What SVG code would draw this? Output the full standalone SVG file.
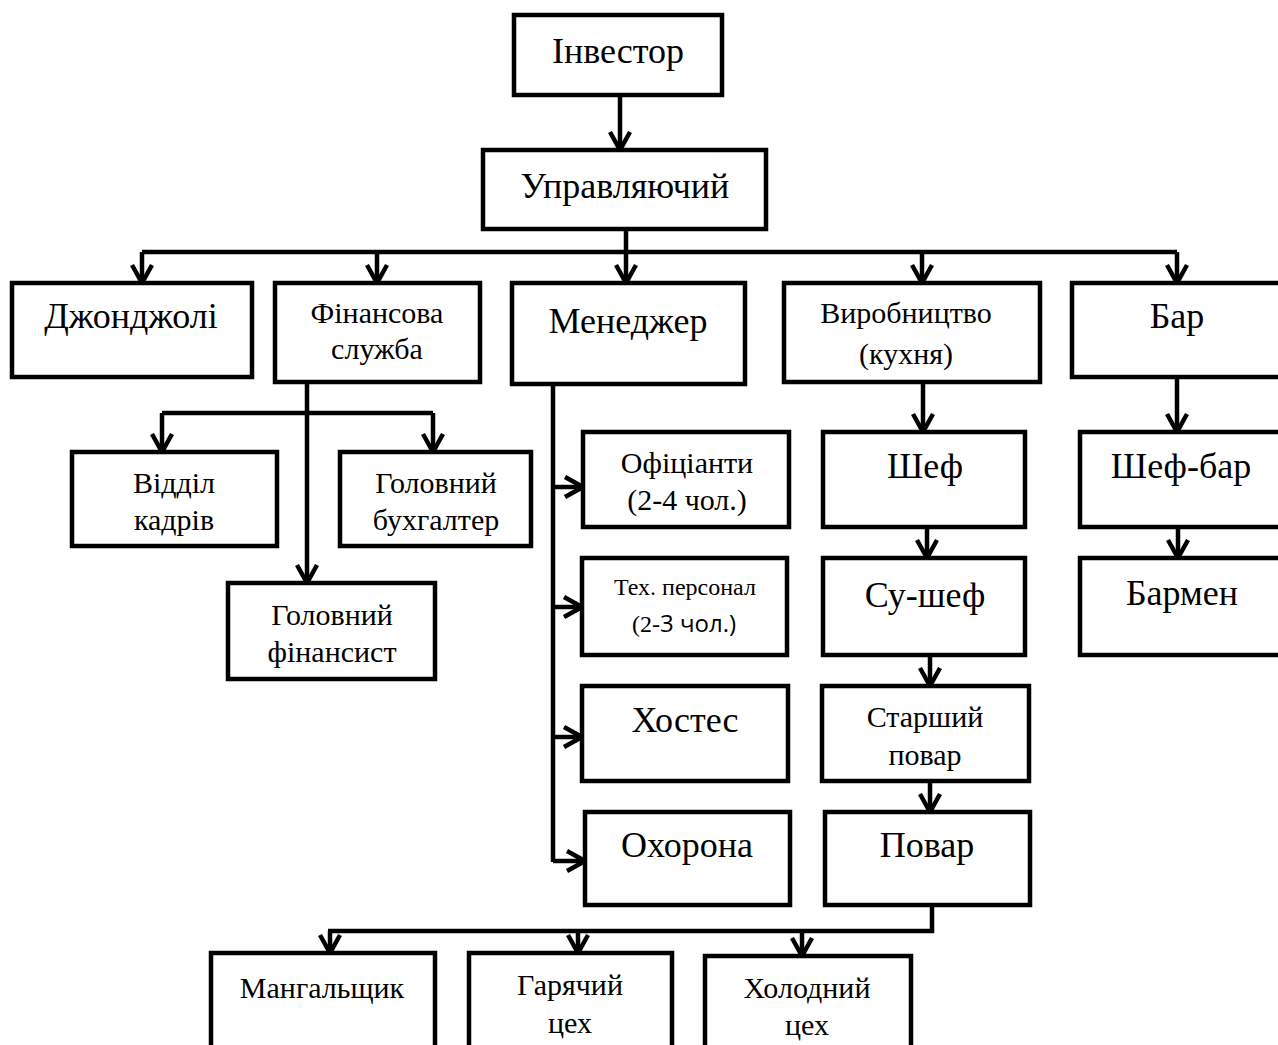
<svg xmlns="http://www.w3.org/2000/svg" width="1278" height="1045" viewBox="0 0 1278 1045">
<style>
.box{fill:#fff;stroke:#000;stroke-width:4.5}
.t{font-family:"Liberation Serif","Times New Roman",serif;fill:#000;text-anchor:middle}
.l{font-size:36px}
.m{font-size:30px}
.s{font-size:24px}
.sans{font-family:"Open Sans","Liberation Sans",sans-serif}
.c{fill:none;stroke:#000;stroke-width:4.5}
.a{marker-end:url(#arr)}
</style>
<defs>
<marker id="arr" viewBox="0 0 24 24" refX="21" refY="12" markerWidth="24" markerHeight="24" markerUnits="userSpaceOnUse" orient="auto">
<path d="M3,2 L21,12 L3,22" fill="none" stroke="#000" stroke-width="4.5"/>
</marker>
</defs>
<rect width="1278" height="1045" fill="#fff"/>
<g id="connectors">
<path class="c a" d="M620,95 V150"/>
<path class="c" d="M626,229 V252 M142,252 H1177"/>
<path class="c a" d="M142,252 V283"/>
<path class="c a" d="M377,252 V283"/>
<path class="c a" d="M626,252 V283"/>
<path class="c a" d="M922,252 V283"/>
<path class="c a" d="M1177,252 V283"/>
<path class="c a" d="M307,382 V583"/>
<path class="c" d="M162,413 H433"/>
<path class="c a" d="M162,413 V452"/>
<path class="c a" d="M433,413 V452"/>
<path class="c" d="M553,384 V862"/>
<path class="c a" d="M553,487 H583"/>
<path class="c a" d="M553,607 H582"/>
<path class="c a" d="M553,737 H582"/>
<path class="c a" d="M553,861 H585"/>
<path class="c a" d="M923,382 V432"/>
<path class="c a" d="M927,527 V558"/>
<path class="c a" d="M930,655 V686"/>
<path class="c a" d="M930,781 V812"/>
<path class="c a" d="M1177,377 V432"/>
<path class="c a" d="M1178,527 V558"/>
<path class="c" d="M932,905 V931 H328"/>
<path class="c a" d="M330,931 V953"/>
<path class="c a" d="M578,931 V953"/>
<path class="c a" d="M802,931 V956"/>
</g>
<g id="investor"><rect class="box" x="514" y="15" width="208" height="80"/><text class="t l" x="618" y="63">Інвестор</text></g>
<g id="upravliaiuchyi"><rect class="box" x="483" y="150" width="283" height="79"/><text class="t l" x="625" y="198">Управляючий</text></g>
<g id="dzhondzholi"><rect class="box" x="12" y="283" width="240" height="94"/><text class="t l" x="131" y="328">Джонджолі</text></g>
<g id="finansova"><rect class="box" x="275" y="283" width="205" height="99"/><text class="t m" x="377" y="323">Фінансова</text><text class="t m" x="377" y="359">служба</text></g>
<g id="menedzher"><rect class="box" x="512" y="283" width="233" height="101"/><text class="t l" x="628" y="333">Менеджер</text></g>
<g id="vyrobnytstvo"><rect class="box" x="784" y="283" width="256" height="99"/><text class="t m" x="906" y="323">Виробництво</text><text class="t m" x="906" y="364">(кухня)</text></g>
<g id="bar"><rect class="box" x="1072" y="283" width="220" height="94"/><text class="t l" x="1177" y="328">Бар</text></g>
<g id="viddil"><rect class="box" x="72" y="452" width="205" height="94"/><text class="t m" x="174" y="493">Відділ</text><text class="t m" x="174" y="530">кадрів</text></g>
<g id="buhgalter"><rect class="box" x="340" y="452" width="191" height="94"/><text class="t m" x="436" y="493">Головний</text><text class="t m" x="436" y="530">бухгалтер</text></g>
<g id="finansyst"><rect class="box" x="228" y="583" width="207" height="96"/><text class="t m" x="332" y="625">Головний</text><text class="t m" x="332" y="662">фінансист</text></g>
<g id="ofitsianty"><rect class="box" x="583" y="432" width="206" height="95"/><text class="t m" x="687" y="473">Офіціанти</text><text class="t m" x="687" y="510">(2-4 чол.)</text></g>
<g id="tekh"><rect class="box" x="582" y="558" width="205" height="97"/><text class="t s" x="685" y="595">Тех. персонал</text><text class="t s" x="684" y="632">(2-<tspan class="sans">3 чол.)</tspan></text></g>
<g id="hostes"><rect class="box" x="582" y="686" width="206" height="95"/><text class="t l" x="685" y="732">Хостес</text></g>
<g id="okhorona"><rect class="box" x="585" y="812" width="205" height="93"/><text class="t l" x="687" y="857">Охорона</text></g>
<g id="shef"><rect class="box" x="823" y="432" width="202" height="95"/><text class="t l" x="925" y="478">Шеф</text></g>
<g id="sushef"><rect class="box" x="823" y="558" width="202" height="97"/><text class="t l" x="925" y="607">Су-шеф</text></g>
<g id="starshyi"><rect class="box" x="822" y="686" width="207" height="95"/><text class="t m" x="925" y="727">Старший</text><text class="t m" x="925" y="765">повар</text></g>
<g id="povar"><rect class="box" x="825" y="812" width="205" height="93"/><text class="t l" x="927" y="857">Повар</text></g>
<g id="shefbar"><rect class="box" x="1080" y="432" width="210" height="95"/><text class="t l" x="1181" y="478">Шеф-бар</text></g>
<g id="barmen"><rect class="box" x="1080" y="558" width="210" height="97"/><text class="t l" x="1182" y="605">Бармен</text></g>
<g id="mangalshchyk"><rect class="box" x="211" y="953" width="224" height="110"/><text class="t m" x="322" y="998">Мангальщик</text></g>
<g id="hariachyi"><rect class="box" x="469" y="953" width="203" height="110"/><text class="t m" x="570" y="995">Гарячий</text><text class="t m" x="570" y="1033">цех</text></g>
<g id="kholodnyi"><rect class="box" x="705" y="956" width="206" height="110"/><text class="t m" x="807" y="998">Холодний</text><text class="t m" x="807" y="1035">цех</text></g>
</svg>
